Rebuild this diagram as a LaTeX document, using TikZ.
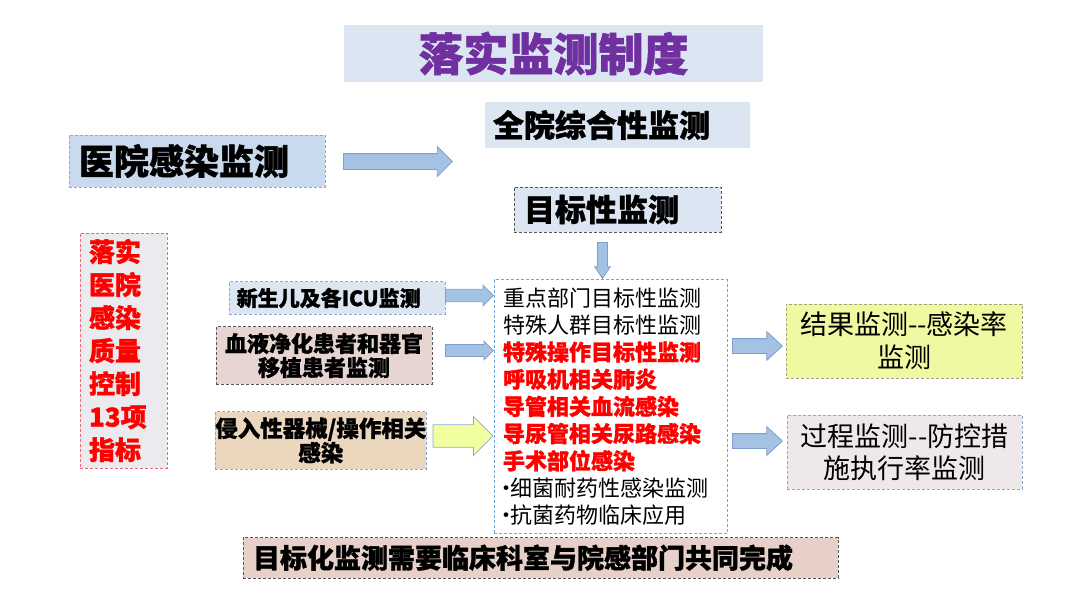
\documentclass[tikz,border=0pt]{standalone}
\usepackage{fontspec}
\setmainfont{Noto Sans CJK SC}[BoldFeatures={FakeBold=1.2}]
\usetikzlibrary{shapes.arrows}
\definecolor{lightblue}{HTML}{DCE6F2}
\definecolor{midblue}{HTML}{C9DAEE}
\definecolor{arrowblue}{HTML}{A4C2E4}
\definecolor{arrowline}{HTML}{7F9FCC}
\definecolor{titlepurple}{HTML}{7030A0}
\definecolor{rosebox}{HTML}{E7D5D1}
\definecolor{sandbox}{HTML}{EAD7BD}
\definecolor{limearrow}{HTML}{F1FF9E}
\definecolor{limebox}{HTML}{F0F8A2}
\definecolor{greybox}{HTML}{EBEBEF}
\definecolor{pinkgrey}{HTML}{EEE9E8}
\definecolor{brownbox}{HTML}{E6D0C8}
\definecolor{redline}{HTML}{EE6677}
\definecolor{blueline}{HTML}{8DAAD2}
\definecolor{listline}{HTML}{6FA8DC}
\definecolor{darkline}{HTML}{555555}
\definecolor{oliveline}{HTML}{A3A37F}
\definecolor{textred}{HTML}{FF0000}
\newcommand{\punkt}{\makebox[7pt][c]{·}}

\begin{document}
\begin{tikzpicture}[x=1pt,y=-1pt]
 \tikzstyle{kasten}=[rectangle,inner sep=0pt,line width=0.8pt,dash pattern=on 3pt off 2pt]
 \tikzstyle{pfeil}=[single arrow,draw=arrowline,fill=arrowblue,line width=0.8pt,inner sep=0pt,anchor=tail]
 \useasboundingbox (0,0) rectangle (1080,608);
 % headings
 \node[kasten,fill=lightblue,minimum width=419,minimum height=57,text=titlepurple,font=\fontsize{45}{50}\selectfont\bfseries] (T) at (553.5,53.5) {落实监测制度};
 \node[kasten,fill=midblue,draw=blueline,minimum height=52,inner xsep=10,text width=236,align=left,font=\fontsize{35}{40}\selectfont\bfseries] (M1) at (197,161) {医院感染监测};
 \node[kasten,fill=lightblue,minimum height=46,inner xsep=8,text width=249,align=left,font=\fontsize{31}{36}\selectfont\bfseries] (M2) at (617.5,125) {全院综合性监测};
 \node[kasten,fill=lightblue,draw=darkline,minimum height=45,inner xsep=10,text width=187,align=left,font=\fontsize{31}{36}\selectfont\bfseries] (M3) at (617.5,209.5) {目标性监测};
 % list of targets
 \node[kasten,fill=white,draw=listline,minimum height=254,inner xsep=9,text width=215,align=left,font=\fontsize{22}{27.2}\selectfont] (L) at (610.5,406.5) {重点部门目标性监测\\特殊人群目标性监测\\\textcolor{textred}{\bfseries 特殊操作目标性监测}\\\textcolor{textred}{\bfseries 呼吸机相关肺炎}\\\textcolor{textred}{\bfseries 导管相关血流感染}\\\textcolor{textred}{\bfseries 导尿管相关尿路感染}\\\textcolor{textred}{\bfseries 手术部位感染}\\\punkt 细菌耐药性感染监测\\\punkt 抗菌药物临床应用};
 \node[kasten,fill=greybox,draw=redline,minimum height=235,inner xsep=9,text width=69,align=left,text=textred,font=\fontsize{26}{33}\selectfont\bfseries] (Q) at (123.5,350.5) {落实\\医院\\感染\\质量\\控制\\13项\\指标};
 % special groups
 \node[kasten,fill=lightblue,draw=blueline,minimum height=32.3,inner xsep=7.7,text width=200.6,align=left,font=\fontsize{21}{25}\selectfont\bfseries] (S1) at (337,298) {新生儿及各ICU监测};
 \node[kasten,fill=rosebox,draw=darkline,minimum width=216,minimum height=57.6,align=center,font=\fontsize{22}{24}\selectfont\bfseries] (S2) at (324,355.5) {血液净化患者和器官\\移植患者监测};
 \node[kasten,fill=sandbox,draw=blueline,minimum width=209.7,minimum height=57.6,align=center,font=\fontsize{22.5}{23.3}\selectfont\bfseries] (S3) at (320.8,440.5) {侵入性器械/操作相关\\感染};
 % outcome boxes
 \node[kasten,fill=limebox,draw=oliveline,minimum width=236,minimum height=74,align=center,font=\fontsize{27}{33}\selectfont] (O1) at (904,341) {结果监测-{}-感染率\\监测};
 \node[kasten,fill=pinkgrey,draw=blueline,minimum width=235,minimum height=74,align=center,font=\fontsize{27}{32}\selectfont] (O2) at (904.5,452) {过程监测-{}-防控措\\施执行率监测};
 \node[kasten,fill=brownbox,draw=darkline,minimum height=40.3,inner xsep=10,text width=575,align=left,font=\fontsize{27}{32}\selectfont\bfseries] (B) at (540.5,557.8) {目标化监测需要临床科室与院感部门共同完成};
 % block arrows
 \node[pfeil,minimum height=109,inner ysep=7.5,single arrow head extend=7.2,single arrow tip angle=90] (A1) at (343,161.5) {};
 \node[pfeil,minimum height=36,inner xsep=4.5,inner ysep=0pt,single arrow head extend=3,single arrow tip angle=68,shape border rotate=270] (A2) at (602.5,242) {};
 \node[pfeil,minimum height=48,inner ysep=5.8,single arrow head extend=4.2,single arrow tip angle=90] (A3) at (445,295.5) {};
 \node[pfeil,minimum height=48,inner ysep=5.5,single arrow head extend=3.5,single arrow tip angle=90] (A4) at (445,350.5) {};
 \node[pfeil,fill=limearrow,draw=blueline,minimum height=60,inner ysep=10.8,single arrow head extend=8.3,single arrow tip angle=90] (A5) at (432.5,436) {};
 \node[pfeil,minimum height=50,inner ysep=7,single arrow head extend=7,single arrow tip angle=85] (A6) at (732,346) {};
 \node[pfeil,minimum height=50,inner ysep=7,single arrow head extend=7,single arrow tip angle=85] (A7) at (732,441) {};
\end{tikzpicture}
\end{document}
